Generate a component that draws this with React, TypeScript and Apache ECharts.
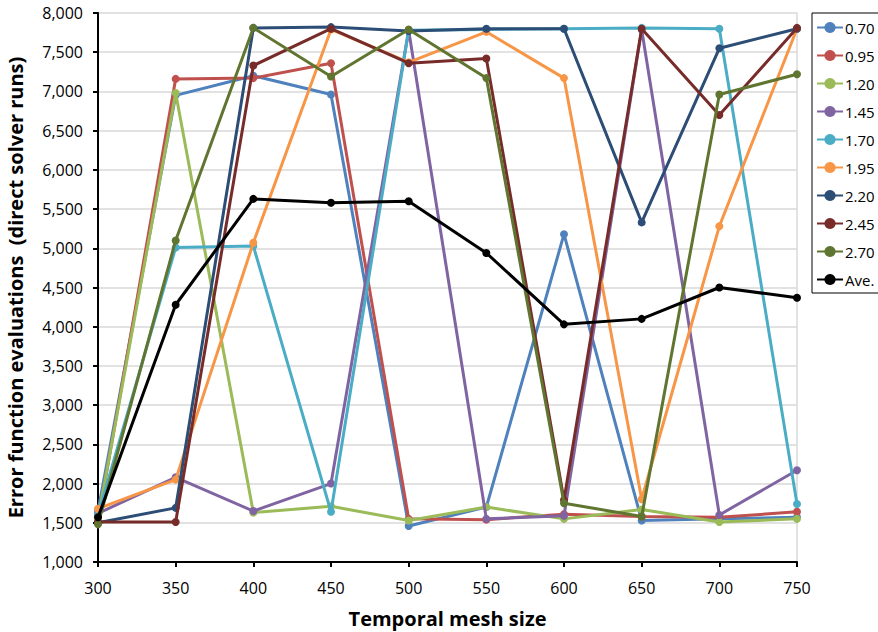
import React, { useEffect, useRef } from "react";
import * as echarts from "echarts";

const meshSizes = [300, 350, 400, 450, 500, 550, 600, 650, 700, 750];
const seriesNames = ["0.70", "0.95", "1.20", "1.45", "1.70", "1.95", "2.20", "2.45", "2.70", "Ave."];
const seriesColors = ["#4F81BD", "#C0504D", "#9BBB59", "#8064A2", "#4BACC6", "#F79646", "#2C4D75", "#772C2A", "#5F7530", "#000000"];

const s070 = [1650, 6950, 7200, 6960, 1460, 1700, 5180, 1530, 1550, 1570];
const s095 = [1520, 7160, 7170, 7360, 1550, 1540, 1610, 1580, 1570, 1640];
const s120 = [1550, 6980, 1630, 1710, 1530, 1700, 1550, 1670, 1510, 1550];
const s145 = [1620, 2080, 1650, 2000, 7780, 1550, 1590, 7790, 1600, 2170];
const s170 = [1600, 5010, 5030, 1640, 7780, 7790, 7800, 7810, 7800, 1740];
const s195 = [1680, 2050, 5070, 7790, 7370, 7760, 7170, 1800, 5280, 7800];
const s220 = [1500, 1690, 7810, 7820, 7770, 7800, 7800, 5330, 7550, 7800];
const s245 = [1510, 1510, 7330, 7800, 7360, 7420, 1790, 7800, 6700, 7810];
const s270 = [1480, 5100, 7810, 7190, 7790, 7170, 1750, 1580, 6960, 7220];
const sAve = [1570, 4280, 5630, 5580, 5600, 4940, 4030, 4100, 4500, 4370];

const allValues = [s070, s095, s120, s145, s170, s195, s220, s245, s270, sAve];

const FONT = "'Open Sans', sans-serif";

export default function App() {
  const ref = useRef<HTMLDivElement>(null);
  useEffect(() => {
    if (!ref.current) return;
    const chart = echarts.init(ref.current, null, { renderer: "svg", width: 878, height: 632 });
    chart.setOption({
      animation: false,
      backgroundColor: "#ffffff",
      grid: { left: 98, top: 13, width: 699, height: 549, containLabel: false, outerBoundsMode: "none" },
      legend: {
        orient: "vertical",
        left: 812,
        top: 13,
        padding: [7, 20, 6, 4],
        itemGap: 13,
        itemWidth: 26,
        itemHeight: 14,
        borderColor: "#000",
        borderWidth: 1,
        textStyle: { fontFamily: FONT, fontSize: 15, color: "#000", padding: [0, 0, 0, -3] },
        data: seriesNames,
      },
      xAxis: {
        type: "value",
        min: 300,
        max: 750,
        interval: 50,
        name: "Temporal mesh size",
        nameLocation: "middle",
        nameGap: 46,
        nameTextStyle: { fontFamily: FONT, fontSize: 20, fontWeight: "bold", color: "#000" },
        axisLine: { show: true, onZero: false, lineStyle: { color: "#000", width: 2 } },
        axisTick: { show: true, inside: false, length: 5, lineStyle: { color: "#000", width: 2 } },
        axisLabel: { fontFamily: FONT, fontSize: 16, color: "#000", margin: 18 },
        splitLine: { show: false },
      },
      yAxis: [
        {
          type: "value",
          min: 1000,
          max: 8000,
          interval: 500,
          name: "Error function evaluations  (direct solver runs)",
          nameLocation: "middle",
          nameGap: 73,
          nameTextStyle: { fontFamily: FONT, fontSize: 20, fontWeight: "bold", color: "#000" },
          axisLine: { show: true, lineStyle: { color: "#000", width: 2 } },
          axisTick: { show: true, inside: false, length: 5, lineStyle: { color: "#000", width: 2 } },
          axisLabel: {
            fontFamily: FONT,
            fontSize: 16,
            color: "#000",
            margin: 15,
            formatter: (v: number) => v.toLocaleString("en-US"),
          },
          splitLine: { show: true, lineStyle: { color: "#D9D9D9", width: 1.5 } },
        },
        {
          type: "value",
          min: 1000,
          max: 8000,
          position: "right",
          axisLine: { show: true, lineStyle: { color: "#D9D9D9", width: 1.5 } },
          axisTick: { show: false },
          axisLabel: { show: false },
          splitLine: { show: false },
        },
      ],
      series: seriesNames.map((name, i) => ({
        name,
        type: "line",
        yAxisIndex: 0,
        data: meshSizes.map((x, j) => [x, allValues[i][j]]),
        symbol: "circle",
        symbolSize: 8,
        showSymbol: true,
        lineStyle: { color: seriesColors[i], width: 3 },
        itemStyle: { color: seriesColors[i] },
        z: 2 + i,
      })),
    });
    return () => chart.dispose();
  }, []);
  return <div ref={ref} style={{ width: 878, height: 632, position: "absolute", left: 0, top: 0 }} />;
}
